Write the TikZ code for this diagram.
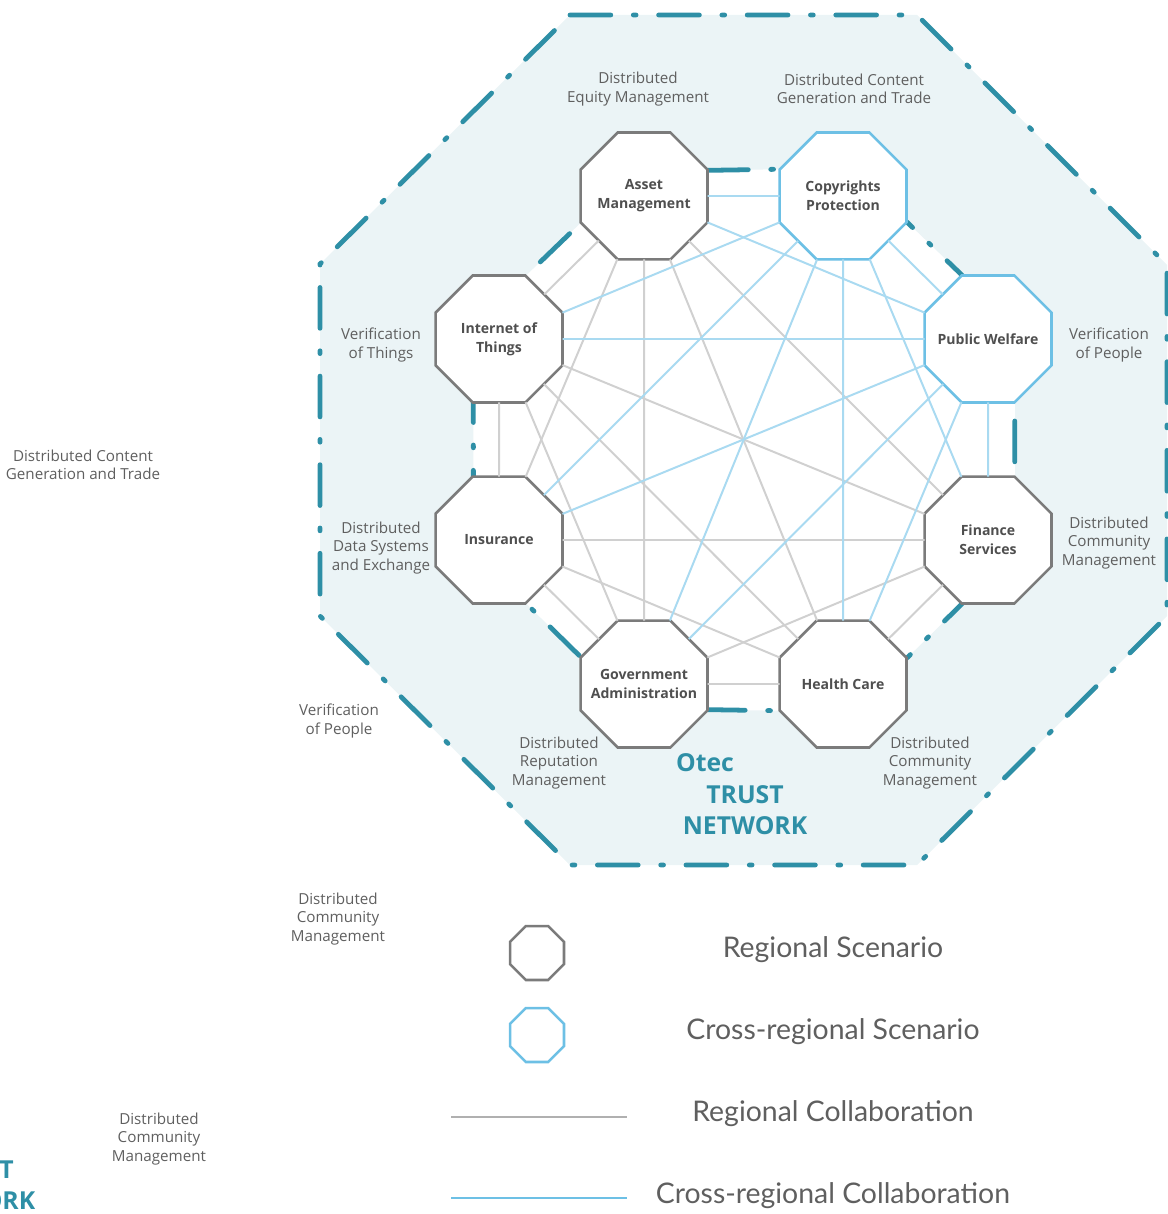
\documentclass[tikz,border=0pt]{standalone}
\usepackage{fontspec}
\setmainfont{Open Sans}
\newfontfamily\legendfont{Lato}
\usepackage{tikz}
\usetikzlibrary{backgrounds, shapes.geometric}
\definecolor{otecteal}{HTML}{2E8FA6}
\definecolor{panelblue}{HTML}{EBF4F6}
\definecolor{regiongray}{HTML}{7B7B7B}
\definecolor{crossblue}{HTML}{6DC0E5}
\definecolor{reglinegray}{HTML}{D0D0D0}
\definecolor{crosslineblue}{HTML}{A9DAF1}
\definecolor{textgray}{HTML}{5F5F5F}
\definecolor{nodetext}{HTML}{4F4F4F}
\tikzset{
    scenario/.style = {regular polygon, regular polygon sides=8, minimum size=3.435cm,
        inner sep=-14pt, outer sep=0pt, fill=white, line width=1.8pt, align=center,
        text=nodetext, font=\bfseries\fontsize{10}{13.5}\selectfont},
    regional/.style = {scenario, draw=regiongray},
    crossregional/.style = {scenario, draw=crossblue},
    regline/.style = {reglinegray, line width=1.4pt},
    crossline/.style = {crosslineblue, line width=1.4pt},
    trustborder/.style = {otecteal, line width=3.4pt, line cap=round,
        dash pattern=on 29pt off 16pt on 2pt off 16pt},
    arealabel/.style = {align=center, text=textgray, font=\fontsize{10.8}{13.2}\selectfont},
    trusttitle/.style = {text=otecteal, font=\bfseries\fontsize{17.6}{22}\selectfont},
    legendtext/.style = {text=textgray, font=\legendfont\fontsize{20.2}{24}\selectfont},
}

\begin{document}
\begin{tikzpicture}[x=0.025cm, y=-0.025cm]
        \useasboundingbox (0, 0) rectangle (1168, 1214);
        % draw the eight scenarios
        \node[regional] (asset) at (644, 196) {Asset\\Management};
        \node[crossregional] (copyright) at (843, 196) {Copyrights\\Protection};
        \node[crossregional] (welfare) at (988, 339) {Public Welfare};
        \node[regional] (finance) at (988, 540) {Finance\\Services};
        \node[regional] (health) at (843, 684) {Health Care};
        \node[regional] (gov) at (644, 684) {Government\\Administration};
        \node[regional] (insurance) at (499, 540) {Insurance};
        \node[regional] (iot) at (499, 339) {Internet of\\Things};
        % draw regional collaboration lines
        \foreach \a/\b in {asset/iot, asset/insurance, asset/gov, asset/health, asset/finance,
                iot/insurance, iot/gov, iot/health, iot/finance,
                insurance/gov, insurance/health, insurance/finance,
                gov/health, gov/finance, health/finance}{
            \draw[regline] (\a) -- (\b);
        }
        % draw cross-regional collaboration lines
        \foreach \a in {asset, iot, insurance, gov, health, finance}{
            \draw[crossline] (\a) -- (copyright);
            \draw[crossline] (\a) -- (welfare);
        }
        \draw[crossline] (copyright) -- (welfare);
        % fill the trust network area and draw its dash-dot borders
        \begin{pgfonlayer}{background}
            \fill[panelblue] (570, 15) -- (917, 15) -- (1167, 265) -- (1167, 616) -- (917, 865)
                -- (570, 865) -- (320, 616) -- (320, 264) -- cycle;
            \fill[white] (asset.22.5) -- (copyright.157.5) -- (copyright.-22.5) -- (welfare.112.5)
                -- (welfare.-67.5) -- (finance.67.5) -- (finance.-112.5) -- (health.22.5)
                -- (health.-157.5) -- (gov.-22.5) -- (gov.157.5) -- (insurance.-67.5)
                -- (insurance.112.5) -- (iot.-112.5) -- (iot.67.5) -- (asset.-157.5) -- cycle;
            \draw[trustborder] (570, 15) -- (917, 15) -- (1167, 265) -- (1167, 616) -- (917, 865)
                -- (570, 865) -- (320, 616) -- (320, 264) -- cycle;
            \draw[trustborder] (asset.22.5) -- (copyright.157.5) -- (copyright.-22.5) -- (welfare.112.5)
                -- (welfare.-67.5) -- (finance.67.5) -- (finance.-112.5) -- (health.22.5)
                -- (health.-157.5) -- (gov.-22.5) -- (gov.157.5) -- (insurance.-67.5)
                -- (insurance.112.5) -- (iot.-112.5) -- (iot.67.5) -- (asset.-157.5) -- cycle;
        \end{pgfonlayer}
        % label the distributed areas
        \node[arealabel] (equity) at (638, 89) {Distributed\\Equity Management};
        \node[arealabel] (content) at (854, 89) {Distributed Content\\Generation and Trade};
        \node[arealabel] (things) at (381, 345) {Verification\\of Things};
        \node[arealabel] (people) at (1109, 345) {Verification\\of People};
        \node[arealabel] (datasys) at (381, 548) {Distributed\\Data Systems\\and Exchange};
        \node[arealabel] (community) at (1109, 543) {Distributed\\Community\\Management};
        \node[arealabel] (reputation) at (559, 763) {Distributed\\Reputation\\Management};
        \node[arealabel] (communitylow) at (930, 763) {Distributed\\Community\\Management};
        % title
        \node[trusttitle] (otec) at (705, 763) {Otec};
        \node[trusttitle] (trust) at (745, 795) {TRUST};
        \node[trusttitle] (network) at (745, 826) {NETWORK};
        % left-over labels outside the network
        \node[arealabel] (strayContent) at (83, 465) {Distributed Content\\Generation and Trade};
        \node[arealabel] (strayPeople) at (339, 721) {Verification\\of People};
        \node[arealabel] (strayCommunity) at (338, 919) {Distributed\\Community\\Management};
        \node[arealabel] (strayCommunityLow) at (159, 1139) {Distributed\\Community\\Management};
        \node[trusttitle] (strayTrust) at (-25, 1170) {TRUST};
        \node[trusttitle] (strayNetwork) at (-27, 1201) {NETWORK};
        % legend
        \node[regional, minimum size=1.46cm] (legRegional) at (537, 953) {};
        \node[crossregional, minimum size=1.46cm] (legCross) at (537, 1035) {};
        \draw[regiongray!60, line width=0.9pt] (451, 1117) -- (627, 1117);
        \draw[crossblue, line width=2pt] (451, 1198) -- (627, 1198);
        \node[legendtext] (legRegionalText) at (833, 950) {Regional Scenario};
        \node[legendtext] (legCrossText) at (833, 1032) {Cross-regional Scenario};
        \node[legendtext] (legRegLineText) at (833, 1114) {Regional Collaboration};
        \node[legendtext] (legCrossLineText) at (833, 1196) {Cross-regional Collaboration};
    \end{tikzpicture}
\end{document}
